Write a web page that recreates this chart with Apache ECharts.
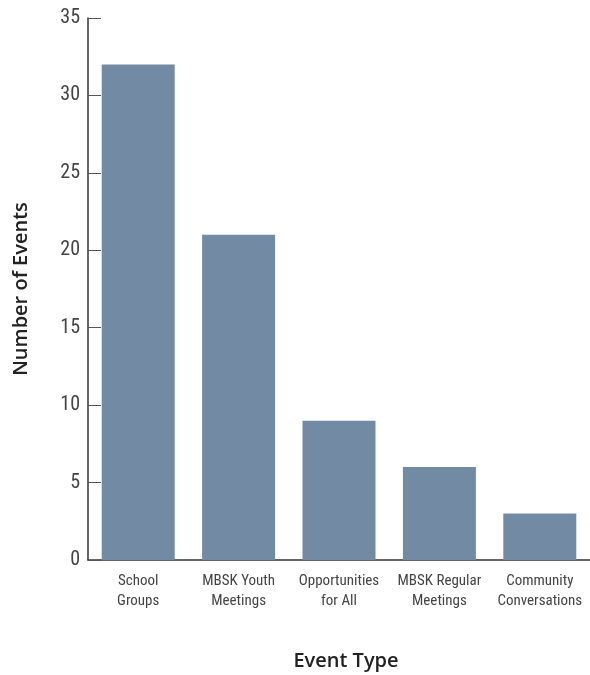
<!DOCTYPE html>
<html><head><meta charset="utf-8">
<script src="https://cdn.jsdelivr.net/npm/echarts@6/dist/echarts.min.js"></script>
<style>html,body{margin:0;padding:0;background:#fff}#c{width:590px;height:675px}</style>
</head><body><div id="c"></div>
<script>
const categories = ['School\nGroups', 'MBSK Youth\nMeetings', 'Opportunities\nfor All', 'MBSK Regular\nMeetings', 'Community\nConversations'];
const values = [32, 21, 9, 6, 3];
const yTicks = [0, 5, 10, 15, 20, 25, 30, 35];
const cond = '"Roboto Condensed", "Liberation Sans Narrow", "Arial Narrow", sans-serif';
const chart = echarts.init(document.getElementById('c'));
chart.setOption({
  animation: false,
  grid: {left: 88, right: 0, top: 18, bottom: 115, containLabel: false, outerBoundsMode: 'none'},
  xAxis: {
    type: 'category', data: categories,
    axisLine: {lineStyle: {color: '#333', width: 1.5}},
    axisTick: {inside: true, length: 13, lineStyle: {color: '#555'}},
    axisLabel: {interval: 0, color: '#444', fontFamily: cond, fontSize: 15, lineHeight: 20, margin: 11},
    name: 'Event Type', nameLocation: 'middle', nameGap: 91,
    nameTextStyle: {color: '#222', fontFamily: '"Open Sans", sans-serif', fontWeight: 600, fontSize: 20, padding: [0, 0, 0, 14]}
  },
  yAxis: {
    type: 'value', min: 0, max: 35, interval: 5,
    axisLine: {show: true, lineStyle: {color: '#333', width: 1.5}},
    axisTick: {show: true, inside: true, length: 13, lineStyle: {color: '#555'}},
    splitLine: {show: false},
    axisLabel: {color: '#444', fontFamily: cond, fontSize: 20, margin: 8,
      formatter: v => yTicks.includes(v) ? String(v) : ''},
    name: 'Number of Events', nameLocation: 'middle', nameGap: 57,
    nameTextStyle: {color: '#222', fontFamily: '"Open Sans", sans-serif', fontWeight: 600, fontSize: 20}
  },
  series: [{type: 'bar', data: values, barWidth: 73, itemStyle: {color: '#738AA5'}}]
});
</script></body></html>
